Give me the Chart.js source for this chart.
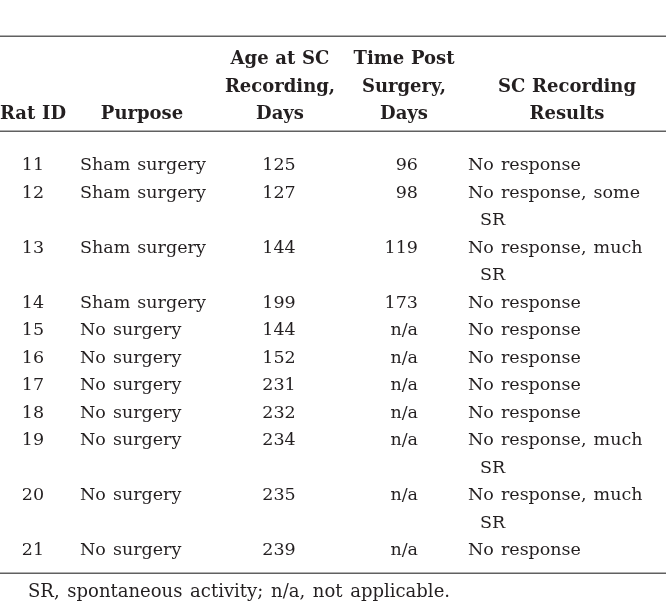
<!DOCTYPE html>
<html>
<head>
<meta charset="utf-8">
<script src="https://cdn.jsdelivr.net/npm/chart.js@4.4.1/dist/chart.umd.min.js"></script>
<style>
    html, body { margin: 0; padding: 0; background: #fff; }
    canvas { display: block; }
</style>
</head>
<body>
<canvas id="table-chart" width="669" height="611"></canvas>
<script>
// table contents
const headers = [
    ['Rat ID'],
    ['Purpose'],
    ['Age at SC', 'Recording,', 'Days'],
    ['Time Post', 'Surgery,', 'Days'],
    ['SC Recording', 'Results']
];
const ratIds = ['11', '12', '13', '14', '15', '16', '17', '18', '19', '20', '21'];
const purposes = [
    'Sham surgery', 'Sham surgery', 'Sham surgery', 'Sham surgery',
    'No surgery', 'No surgery', 'No surgery', 'No surgery', 'No surgery', 'No surgery', 'No surgery'
];
const ages = [125, 127, 144, 199, 144, 152, 231, 232, 234, 235, 239];
const timePost = ['96', '98', '119', '173', 'n/a', 'n/a', 'n/a', 'n/a', 'n/a', 'n/a', 'n/a'];
const results = [
    ['No response'],
    ['No response, some', 'SR'],
    ['No response, much', 'SR'],
    ['No response'],
    ['No response'],
    ['No response'],
    ['No response'],
    ['No response'],
    ['No response, much', 'SR'],
    ['No response, much', 'SR'],
    ['No response']
];
const footnote = 'SR, spontaneous activity; n/a, not applicable.';

// layout (x in scale units across the page, y in text lines)
const COLS = [
    { head: 33,  body: 33,  align: 'center' },
    { head: 142, body: 80,  align: 'left' },
    { head: 280, body: 279, align: 'center' },
    { head: 404, body: 418, align: 'right' },
    { head: 567, body: 468, align: 'left', indent: 12 }
];
const HEADER_LINES = 3;
const BODY_START = 3.855;
const LINE_PX = 27.5;
const FIRST_BASELINE_PX = 64;
const TEXT_COLOR = '#231f20';
const RULE_COLOR = '#606060';
const FONT = '"DejaVu Serif", serif';

const canvas = document.getElementById('table-chart');
const yMin = -FIRST_BASELINE_PX / LINE_PX;
const yMax = yMin + canvas.height / LINE_PX;

function bodyCells(i) {
    return [[ratIds[i]], [purposes[i]], [String(ages[i])], [timePost[i]], results[i]];
}

const tablePlugin = {
    id: 'tableText',
    afterDraw(chart) {
        const ctx = chart.ctx;
        const xs = chart.scales.x;
        const ys = chart.scales.y;
        const px = v => xs.getPixelForValue(v);
        const py = v => ys.getPixelForValue(v);

        ctx.save();
        ctx.fillStyle = TEXT_COLOR;
        ctx.textBaseline = 'alphabetic';

        // header, bottom aligned
        ctx.font = 'bold 18px ' + FONT;
        ctx.wordSpacing = '0.5px';
        headers.forEach((lines, c) => {
            ctx.textAlign = 'center';
            lines.forEach((t, k) => {
                ctx.fillText(t, px(COLS[c].head), py(HEADER_LINES - lines.length + k));
            });
        });

        // body rows
        ctx.font = '17.5px ' + FONT;
        ctx.wordSpacing = '1.5px';
        let line = BODY_START;
        ratIds.forEach((_, i) => {
            const cells = bodyCells(i);
            let rowLines = 1;
            cells.forEach((lines, c) => {
                ctx.textAlign = COLS[c].align;
                lines.forEach((t, k) => {
                    const x = COLS[c].body + (k > 0 ? (COLS[c].indent || 0) : 0);
                    ctx.fillText(t, px(x), py(line + k));
                });
                rowLines = Math.max(rowLines, lines.length);
            });
            line += rowLines;
        });
        const lastLine = line - 1;

        // rules
        ctx.strokeStyle = RULE_COLOR;
        ctx.lineWidth = 1.5;
        [-1.0, 2.45, lastLine + 0.65].forEach(v => {
            const y = Math.round(py(v)) + 0.25;
            ctx.beginPath();
            ctx.moveTo(px(0), y);
            ctx.lineTo(px(666), y);
            ctx.stroke();
        });

        // footnote
        ctx.textAlign = 'left';
        ctx.font = '18px ' + FONT;
        ctx.wordSpacing = '2px';
        ctx.fillText(footnote, px(28), py(lastLine + 1.53));
        ctx.restore();
    }
};

new Chart(canvas.getContext('2d'), {
    type: 'scatter',
    data: { datasets: [{ data: [], pointRadius: 0 }] },
    options: {
        responsive: false,
        animation: false,
        layout: { padding: 0 },
        plugins: { legend: { display: false }, tooltip: { enabled: false } },
        scales: {
            x: { type: 'linear', min: 0, max: canvas.width, display: false },
            y: { type: 'linear', min: yMin, max: yMax, reverse: true, display: false }
        }
    },
    plugins: [tablePlugin]
});
</script>
</body>
</html>
